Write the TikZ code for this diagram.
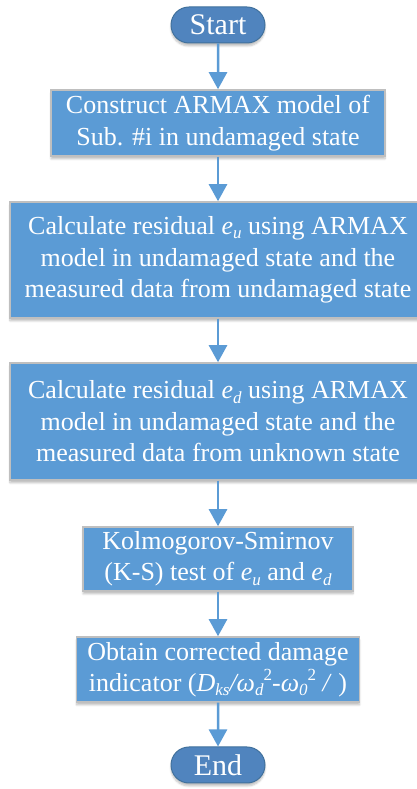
\documentclass[tikz,border=0pt]{standalone}
\usepackage{fontspec}
\setmainfont{Liberation Serif}
\usetikzlibrary{arrows.meta,shadows.blur,shapes.misc}
\definecolor{boxblue}{HTML}{5B9BD5}
\definecolor{termblue}{HTML}{5084BE}
\definecolor{termedge}{HTML}{41719C}
\definecolor{boxedge}{HTML}{BFBFBF}
\newcommand\lsub[1]{\raisebox{-0.35ex}{\fontsize{17}{17}\selectfont\textit{#1}}}
\newcommand\lsup[1]{\raisebox{0.9ex}{\fontsize{17}{17}\selectfont #1}}
\tikzset{
  x=1pt, y=1pt,
  txt/.style={text=white, font=\fontsize{26}{31.5}\selectfont, align=center},
  procbox/.style={txt, rectangle, fill=boxblue, draw=boxedge, line width=1.5pt,
    inner sep=0pt, blur shadow={shadow xshift=0pt, shadow yshift=-3pt, shadow blur steps=6, shadow opacity=25}},
  termbox/.style={txt, font=\fontsize{30}{34}\selectfont, rounded rectangle, fill=termblue, draw=termedge, line width=1pt,
    inner sep=0pt, blur shadow={shadow xshift=0pt, shadow yshift=-3pt, shadow blur steps=6, shadow opacity=25}},
  flow/.style={draw=boxblue, line width=2.5pt, -{Triangle[length=17pt,width=18pt]}}
}
\begin{document}
\begin{tikzpicture}
\useasboundingbox (0,0) rectangle (417,789);
\node[termbox, minimum width=94pt, minimum height=36pt] (start) at (218,764) {Start};
\node[procbox, minimum width=334pt, minimum height=66pt] (b1) at (218,666)
  {Construct ARMAX model of\\Sub. \#i in undamaged state};
\node[procbox, minimum width=416pt, minimum height=116pt] (b2) at (218,529)
  {Calculate residual \textit{e}\lsub{u} using ARMAX\\model in undamaged state and the\\measured data from undamaged state};
\node[procbox, minimum width=416pt, minimum height=117pt] (b3) at (218,367.5)
  {Calculate residual \textit{e}\lsub{d} using ARMAX\\model in undamaged state and the\\measured data from unknown state};
\node[procbox, minimum width=270pt, minimum height=64pt] (b4) at (218,230)
  {Kolmogorov-Smirnov\\(K-S) test of \textit{e}\lsub{u} and \textit{e}\lsub{d}};
\node[procbox, minimum width=283pt, minimum height=65pt] (b5) at (218,119.5)
  {Obtain corrected damage\\indicator (\textit{D}\lsub{ks}\textit{/ω}\lsub{d}\lsup{2}-\textit{ω}\lsub{0}\lsup{2} \textit{/} )};
\node[termbox, minimum width=94pt, minimum height=36pt] (end) at (218,24) {End};
\draw[flow] (start) -- (b1);
\draw[flow] (b1) -- (b2);
\draw[flow] (b2) -- (b3);
\draw[flow] (b3) -- (b4);
\draw[flow] (b4) -- (b5);
\draw[flow] (b5) -- (end);
\end{tikzpicture}
\end{document}
